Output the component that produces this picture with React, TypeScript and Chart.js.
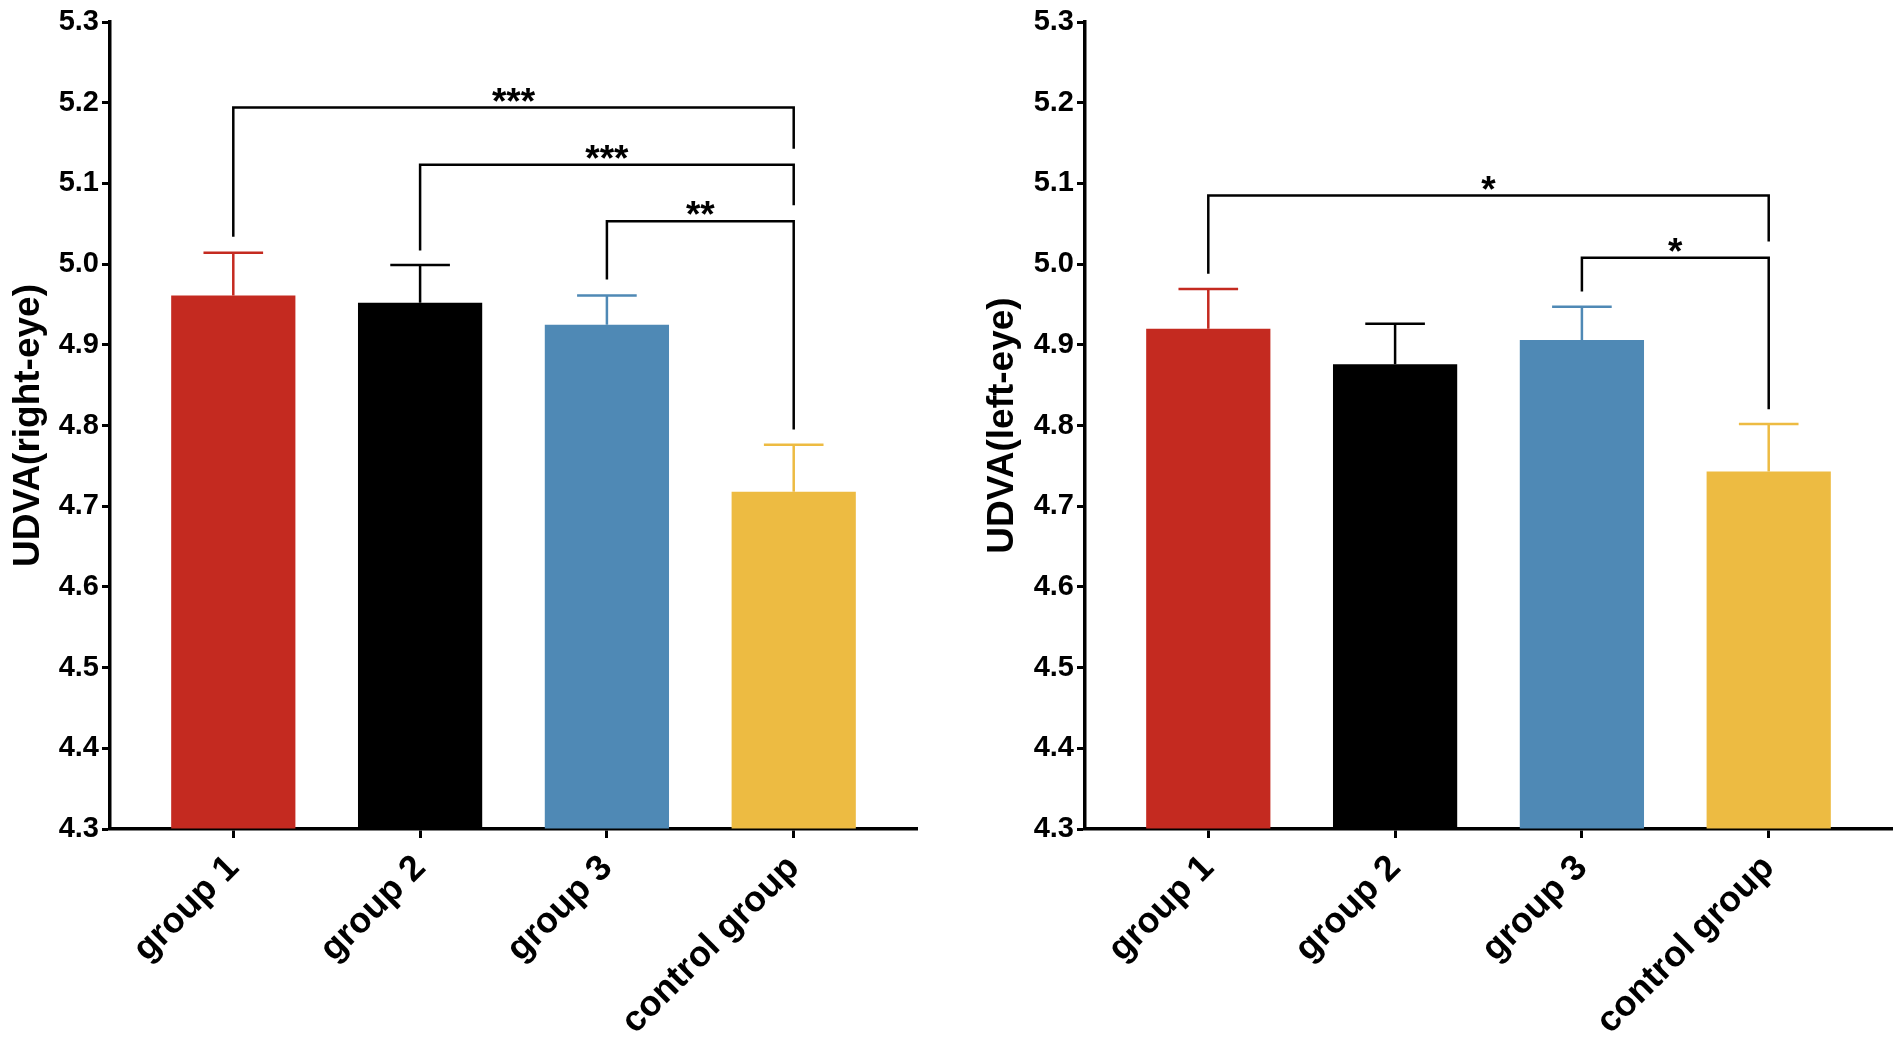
import { useEffect, useRef } from "react";
import { Chart, registerables } from "chart.js";

Chart.register(...registerables);

const groups = ["group 1", "group 2", "group 3", "control group"];
const barColors = ["#C42A20", "#000000", "#4F89B5", "#EDBB42"];
const yTicks = [4.3, 4.4, 4.5, 4.6, 4.7, 4.8, 4.9, 5.0, 5.1, 5.2, 5.3];

const rightEyeMeans = [4.961, 4.952, 4.925, 4.718];
const rightEyeSd = [0.053, 0.047, 0.036, 0.058];
const leftEyeMeans = [4.92, 4.876, 4.906, 4.743];
const leftEyeSd = [0.049, 0.05, 0.041, 0.059];

// significance brackets (values in axis units)
const rightEyeBrackets = [
  { from: 0, to: 3, top: 5.194, leftEnd: 5.034, rightEnd: 5.143, stars: "***" },
  { from: 1, to: 3, top: 5.123, leftEnd: 5.017, rightEnd: 5.073, stars: "***" },
  { from: 2, to: 3, top: 5.053, leftEnd: 4.981, rightEnd: 4.795, stars: "**" },
];
const leftEyeBrackets = [
  { from: 0, to: 3, top: 5.085, leftEnd: 4.988, rightEnd: 5.028, stars: "*" },
  { from: 2, to: 3, top: 5.008, leftEnd: 4.966, rightEnd: 4.82, stars: "*" },
];

const FONT = "'Liberation Sans', Arial, Helvetica, sans-serif";

type Bracket = (typeof rightEyeBrackets)[number];

interface EyeChartProps {
  title: string;
  means: number[];
  sd: number[];
  brackets: Bracket[];
  axisWidth: number;
  titlePad: number;
  padRight: number;
}

function EyeChart({ title, means, sd, brackets, axisWidth, titlePad, padRight }: EyeChartProps) {
  const chartRef = useRef<HTMLCanvasElement>(null);
  const chartInstance = useRef<Chart | null>(null);

  useEffect(() => {
    if (!chartRef.current) return;
    if (chartInstance.current) chartInstance.current.destroy();
    const ctx = chartRef.current.getContext("2d");
    if (!ctx) return;

    // error bars + significance brackets
    const annotate = {
      id: "annotate",
      afterDatasetsDraw(chart: any) {
        const c = chart.ctx;
        const x = chart.scales.x;
        const y = chart.scales.y;
        const bars = chart.getDatasetMeta(0).data;
        c.save();
        c.lineWidth = 2.5;
        means.forEach((m, i) => {
          const px = x.getPixelForValue(i);
          const half = bars[i].width * 0.24;
          const top = y.getPixelForValue(m + sd[i]);
          const base = y.getPixelForValue(m);
          c.strokeStyle = barColors[i];
          c.beginPath();
          c.moveTo(px, base);
          c.lineTo(px, top);
          c.moveTo(px - half, top);
          c.lineTo(px + half, top);
          c.stroke();
        });
        c.strokeStyle = "#000";
        c.fillStyle = "#000";
        c.font = `bold 37px ${FONT}`;
        c.textAlign = "center";
        c.textBaseline = "alphabetic";
        brackets.forEach((b) => {
          const x1 = x.getPixelForValue(b.from);
          const x2 = x.getPixelForValue(b.to);
          const yt = y.getPixelForValue(b.top);
          c.beginPath();
          c.moveTo(x1, y.getPixelForValue(b.leftEnd));
          c.lineTo(x1, yt);
          c.lineTo(x2, yt);
          c.lineTo(x2, y.getPixelForValue(b.rightEnd));
          c.stroke();
          c.fillText(b.stars, (x1 + x2) / 2, yt + 6);
        });
        c.restore();
      },
    };

    chartInstance.current = new Chart(ctx, {
      type: "bar",
      data: {
        datasets: [
          {
            data: means.map((m, i) => ({ x: i, y: m })),
            backgroundColor: barColors,
            borderWidth: 0,
            base: 4.3,
            categoryPercentage: 1,
            barPercentage: 0.665,
          } as any,
        ],
      },
      options: {
        animation: false,
        responsive: true,
        maintainAspectRatio: false,
        layout: { padding: { top: 22, right: padRight, left: 0, bottom: 0 } },
        plugins: {
          legend: { display: false },
          tooltip: { enabled: false },
        },
        scales: {
          x: {
            type: "linear",
            min: -0.66,
            max: 3.66,
            offset: false,
            z: 1,
            afterBuildTicks: (s: any) => {
              s.ticks = groups.map((_, i) => ({ value: i }));
            },
            afterFit: (s: any) => {
              s.height = 225;
            },
            grid: {
              display: true,
              offset: false,
              drawOnChartArea: false,
              drawTicks: true,
              tickLength: 9,
              tickWidth: 3,
              tickColor: "#000",
            },
            border: { display: true, color: "#000", width: 3.5 },
            ticks: {
              autoSkip: false,
              maxRotation: 45,
              minRotation: 45,
              color: "#000",
              padding: 9,
              font: { family: FONT, size: 36, weight: "bold" },
              callback: (v: any) => groups[v as number],
            },
          },
          y: {
            type: "linear",
            min: 4.3,
            max: 5.3,
            z: 1,
            afterBuildTicks: (s: any) => {
              s.ticks = yTicks.map((v) => ({ value: v }));
            },
            afterFit: (s: any) => {
              s.width = axisWidth;
            },
            grid: {
              display: true,
              drawOnChartArea: false,
              drawTicks: true,
              tickLength: 8,
              tickWidth: 3,
              tickColor: "#000",
            },
            border: { display: true, color: "#000", width: 3.5 },
            ticks: {
              color: "#000",
              padding: 3,
              font: { family: FONT, size: 29, weight: "bold" },
              callback: (v: any) => Number(v).toFixed(1),
            },
            title: {
              display: true,
              text: title,
              color: "#000",
              padding: { top: titlePad, bottom: 0 },
              font: { family: FONT, size: 37, weight: "bold" },
            },
          },
        },
      },
      plugins: [annotate],
    });

    return () => {
      if (chartInstance.current) {
        chartInstance.current.destroy();
        chartInstance.current = null;
      }
    };
  }, [title, means, sd, brackets, axisWidth, titlePad, padRight]);

  return (
    <div style={{ position: "relative", width: 951, height: 1054 }}>
      <canvas ref={chartRef}></canvas>
    </div>
  );
}

export default function App() {
  return (
    <div
      style={{
        position: "absolute",
        left: 0,
        top: 0,
        width: 1902,
        height: 1054,
        background: "#fff",
        display: "flex",
      }}
    >
      <EyeChart
        title="UDVA(right-eye)"
        means={rightEyeMeans}
        sd={rightEyeSd}
        brackets={rightEyeBrackets}
        axisWidth={110}
        titlePad={7}
        padRight={34}
      />
      <EyeChart
        title="UDVA(left-eye)"
        means={leftEyeMeans}
        sd={leftEyeSd}
        brackets={leftEyeBrackets}
        axisWidth={134}
        titlePad={30}
        padRight={10}
      />
    </div>
  );
}
